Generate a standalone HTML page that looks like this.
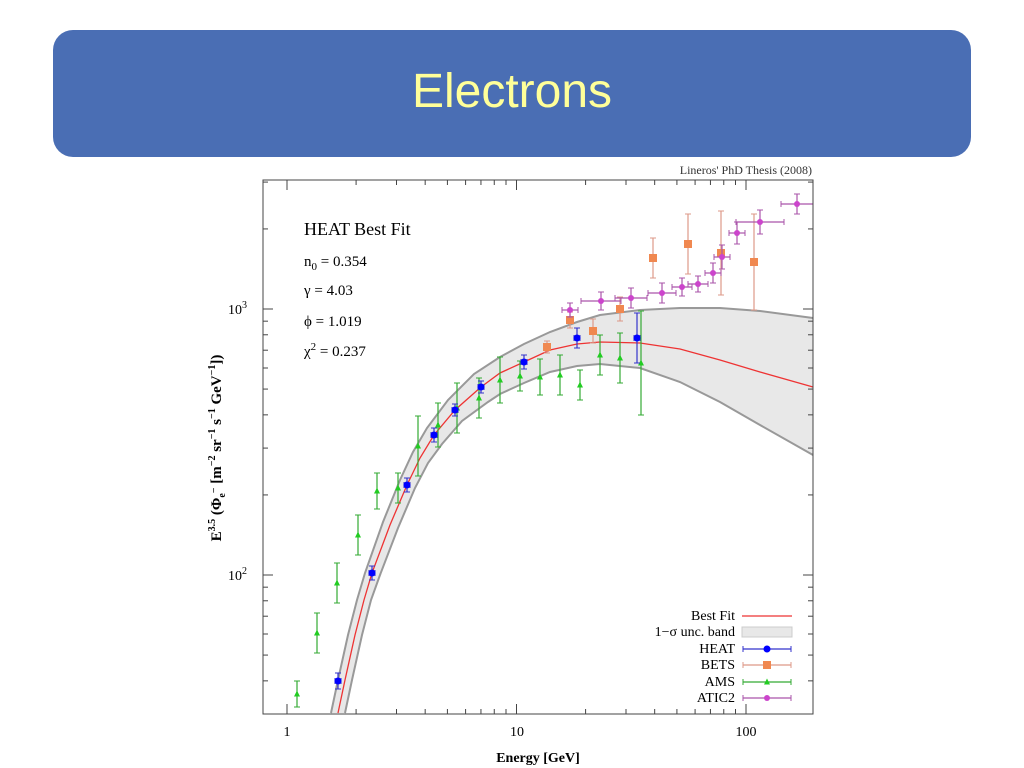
<!DOCTYPE html>
<html><head><meta charset="utf-8"><style>
body{margin:0;width:1024px;height:768px;background:#fff;overflow:hidden;position:relative;font-family:"Liberation Serif",serif}
.banner{position:absolute;left:53px;top:30px;width:918px;height:127px;background:#4a6eb4;border-radius:20px}
.title{position:absolute;left:0;width:1024px;top:64px;text-align:center;font:48px "Liberation Sans",sans-serif;color:#ffff99}
</style></head><body>
<div class="banner"></div><div class="title">Electrons</div>
<svg id="s" width="1024" height="768" style="position:absolute;left:0;top:0" font-family="Liberation Serif, serif">
<text x="812" y="174" font-size="12" text-anchor="end" fill="#333">Lineros' PhD Thesis (2008)</text>
<polygon id="band" fill="#e8e8e8"/>
<polyline id="up" fill="none" stroke="#999" stroke-width="2"/>
<polyline id="lo" fill="none" stroke="#999" stroke-width="2"/>
<polyline id="fit" fill="none" stroke="#e33" stroke-width="1.3"/>
<g id="d"></g>
<rect x="263" y="180" width="550" height="534" fill="none" stroke="#444" stroke-width="1"/>
<g id="t" stroke="#444"></g>
<text x="304" y="235" font-size="18">HEAT Best Fit</text>
<text x="304" y="266" font-size="15">n<tspan font-size="11" dy="4">0</tspan><tspan dy="-4"> = 0.354</tspan></text>
<text x="304" y="295" font-size="15">γ = 4.03</text>
<text x="304" y="326" font-size="15">ϕ = 1.019</text>
<text x="304" y="356" font-size="15">χ<tspan font-size="11" dy="-6">2</tspan><tspan dy="6"> = 0.237</tspan></text>
<text x="287" y="736" font-size="14" text-anchor="middle">1</text>
<text x="517" y="736" font-size="14" text-anchor="middle">10</text>
<text x="746" y="736" font-size="14" text-anchor="middle">100</text>
<text x="538" y="762" font-size="14" font-weight="bold" text-anchor="middle">Energy [GeV]</text>
<text x="228" y="314" font-size="14">10<tspan font-size="10" dy="-6">3</tspan></text>
<text x="228" y="580" font-size="14">10<tspan font-size="10" dy="-6">2</tspan></text>
<text transform="translate(221,448) rotate(-90)" font-size="15" font-weight="bold" text-anchor="middle">E<tspan font-size="10" dy="-6">3.5</tspan><tspan dy="6"> (Φ</tspan><tspan font-size="10" dy="4">e</tspan><tspan font-size="10" dy="-8">−</tspan><tspan dy="4"> [m</tspan><tspan font-size="10" dy="-6">−2</tspan><tspan dy="6"> sr</tspan><tspan font-size="10" dy="-6">−1</tspan><tspan dy="6"> s</tspan><tspan font-size="10" dy="-6">−1</tspan><tspan dy="6"> GeV</tspan><tspan font-size="10" dy="-6">−1</tspan><tspan dy="6">])</tspan></text>
<g font-size="14" text-anchor="end">
<text x="735" y="620">Best Fit</text><text x="735" y="636">1−σ unc. band</text>
<text x="735" y="653">HEAT</text><text x="735" y="669">BETS</text>
<text x="735" y="686">AMS</text><text x="735" y="702">ATIC2</text></g>
<line x1="742" y1="616" x2="792" y2="616" stroke="#e33" stroke-width="1.3"/>
<rect x="742" y="627" width="50" height="10" fill="#e8e8e8" stroke="#ccc"/>
<g id="lg"></g>
</svg>
<script>
var red=[[338,713],[345,680],[355,635],[364,600],[372,573],[390,525],[407,485],[420,458],[434,435],[455,410],[481,387],[500,373],[524,362],[550,350],[577,344],[600,342],[640,343],[680,349],[720,360],[760,372],[813,387]];
var up=[[331,713],[338,680],[348,635],[357,600],[365,573],[383,522],[400,480],[413,452],[427,428],[448,400],[474,374],[500,357],[524,344],[550,332],[577,322],[600,315],[640,310],[680,308],[720,308],[760,311],[813,318]];
var lo=[[345,713],[352,680],[362,635],[371,600],[380,575],[398,528],[415,488],[428,463],[442,444],[462,421],[488,402],[500,394],[524,383],[550,372],[577,366],[600,364],[640,368],[680,382],[720,402],[760,425],[813,455]];
function s(a){return a.map(function(p){return p.join(',')}).join(' ');}
document.getElementById('fit').setAttribute('points',s(red));
document.getElementById('up').setAttribute('points',s(up));
document.getElementById('lo').setAttribute('points',s(lo));
document.getElementById('band').setAttribute('points',s(up.concat(lo.slice().reverse())));
var NS="http://www.w3.org/2000/svg",d=document.getElementById('d');
function el(t,a,p){var e=document.createElementNS(NS,t);for(var k in a)e.setAttribute(k,a[k]);(p||d).appendChild(e);return e;}
function pt(x,y,ey,ex,c,bc,m,p){ey=ey||0;ex=ex||0;
 if(ey){el('line',{x1:x,y1:y-ey,x2:x,y2:y+ey,stroke:bc,'stroke-width':1.2},p);el('line',{x1:x-3,y1:y-ey,x2:x+3,y2:y-ey,stroke:bc},p);el('line',{x1:x-3,y1:y+ey,x2:x+3,y2:y+ey,stroke:bc},p);}
 if(ex){el('line',{x1:x-ex,y1:y,x2:x+ex,y2:y,stroke:bc,'stroke-width':1.2},p);el('line',{x1:x-ex,y1:y-3,x2:x-ex,y2:y+3,stroke:bc},p);el('line',{x1:x+ex,y1:y-3,x2:x+ex,y2:y+3,stroke:bc},p);}
 if(m=='c')el('circle',{cx:x,cy:y,r:3.5,fill:c},p);
 if(m=='s')el('rect',{x:x-4,y:y-4,width:8,height:8,fill:c},p);
 if(m=='t')el('path',{d:'M'+x+','+(y-3.5)+' L'+(x+3)+','+(y+2.5)+' L'+(x-3)+','+(y+2.5)+'Z',fill:c},p);
 if(m=='p')el('circle',{cx:x,cy:y,r:3,fill:c},p);}
var ams=[[297,694,13],[317,633,20],[337,583,20],[358,535,20],[377,491,18],[398,488,15],[418,446,30],[438,425,22],[457,408,25],[479,398,20],[500,380,23],[520,376,15],[540,377,18],[560,375,20],[580,385,15],[600,355,20],[620,358,25],[641,363,52]];
ams.forEach(function(a){pt(a[0],a[1],a[2],0,'#2c2','#3a3','t')});
var bets=[[547,347,6],[570,320,8],[593,331,12],[620,309,12],[653,258,20],[688,244,30],[721,253,42],[754,262,48]];
bets.forEach(function(a){pt(a[0],a[1],a[2],0,'#f08850','#d98','s')});
var heat=[[338,681,8],[372,573,7],[407,485,7],[434,435,7],[455,410,6],[481,387,6],[524,362,7],[577,338,10],[637,338,25]];
heat.forEach(function(a){pt(a[0],a[1],a[2],3,'#00f','#33c','c')});
var at=[[570,310,7,8],[601,301,9,20],[631,298,10,16],[662,293,10,14],[682,287,9,10],[698,284,8,10],[713,273,10,8],[722,257,12,8],[737,233,11,8],[760,222,12,24],[797,204,10,16]];
at.forEach(function(a){pt(a[0],a[1],a[2],a[3],'#c4c','#a5a','p')});
var lg=document.getElementById('lg');
pt(767,649,0,24,'#00f','#33c','c',lg);pt(767,665,0,24,'#f08850','#d98','s',lg);
pt(767,682,0,24,'#2c2','#3a3','t',lg);pt(767,698,0,24,'#c4c','#a5a','p',lg);
var t=document.getElementById('t');
function tk(x1,y1,x2,y2){el('line',{x1:x1,y1:y1,x2:x2,y2:y2},t);}
for(var dec=0;dec<3;dec++)for(var k=1;k<10;k++){var x=287+229.5*(dec+Math.log10(k));if(x<264||x>812)continue;var L=k==1?10:5;tk(x,714,x,714-L);tk(x,180,x,180+L);}
for(var dec=1;dec<4;dec++)for(var k=1;k<10;k++){var y=575-266*(dec-2+Math.log10(k));if(y<181||y>713)continue;var L=k==1?10:5;tk(263,y,263+L,y);tk(813,y,813-L,y);}
</script>
</body></html>
